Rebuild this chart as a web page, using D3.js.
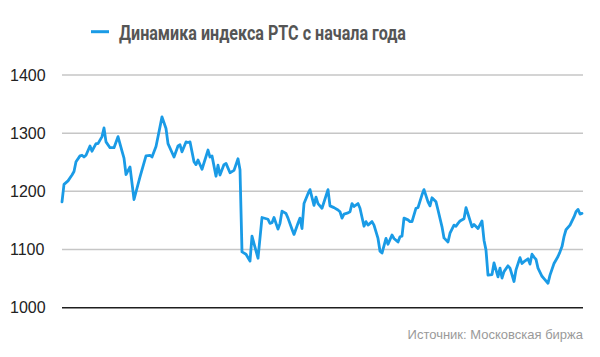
<!DOCTYPE html>
<html><head><meta charset="utf-8">
<script src="https://cdn.jsdelivr.net/npm/d3@7"></script>
<style>html,body{margin:0;padding:0;background:#fff;}svg{display:block;}</style>
</head><body>
<svg id="chart" width="600" height="357"></svg>
<script>
const title = "Динамика индекса РТС с начала года";
const source = "Источник: Московская биржа";
const yTicks = [1000, 1100, 1200, 1300, 1400];
// trading day index since start of year
const days = [0,1,3,5,6,7,9,10,11,12,14,15,17,18,20,21,22,24,26,28,30,31,32,34,36,39,42,44,45,47,48,50,52,53,56,58,59,60,62,63,64,66,67,68,70,73,74,75,77,78,79,81,82,84,86,88,89,90,92,94,95,98,100,103,104,105,106,108,109,110,112,113,115,116,118,119,120,121,123,124,126,127,128,130,133,134,136,138,139,140,141,143,144,145,146,148,149,151,152,153,155,156,158,159,160,162,163,165,166,168,169,170,171,173,174,175,177,178,180,181,183,184,185,187,188,190,191,193,194,196,197,198,199,201,202,203,205,206,208,210,211,212,213,215,216,218,219,220,221,223,224,226,227,229,230,231,233,234,235,236,237,238,240,241,243,244,246,248,249,250,251,252,254,256,257,258,259,260];
const rts = [1182,1212,1218,1228,1234,1251,1261,1262,1259,1262,1278,1269,1282,1282,1294,1309,1285,1275,1275,1294,1269,1257,1229,1242,1186,1225,1261,1262,1259,1277,1294,1328,1308,1282,1259,1278,1280,1268,1285,1284,1285,1251,1246,1254,1238,1271,1259,1261,1226,1245,1228,1246,1248,1232,1236,1256,1237,1096,1092,1080,1123,1085,1155,1152,1145,1146,1155,1135,1145,1166,1162,1154,1135,1126,1145,1154,1136,1179,1196,1203,1176,1190,1179,1171,1203,1175,1172,1168,1165,1154,1161,1163,1165,1179,1174,1179,1171,1140,1148,1142,1148,1142,1119,1097,1094,1119,1109,1125,1119,1113,1122,1123,1154,1151,1148,1148,1171,1172,1194,1203,1182,1175,1189,1182,1168,1139,1120,1113,1128,1142,1140,1145,1149,1153,1172,1161,1139,1143,1136,1149,1116,1099,1056,1057,1077,1053,1068,1051,1062,1072,1068,1045,1065,1086,1076,1079,1084,1075,1092,1087,1083,1068,1054,1050,1042,1056,1076,1088,1096,1105,1122,1134,1142,1156,1165,1169,1161,1162];

const svg = d3.select("#chart");
const x = d3.scaleLinear().domain([0, 260]).range([62, 582]);
const y = d3.scaleLinear().domain([1000, 1400]).range([307.7, 75]);

// gridlines
svg.append("g").selectAll("line").data(yTicks).join("line")
  .attr("x1", 62).attr("x2", 583)
  .attr("y1", d => y(d)).attr("y2", d => y(d))
  .attr("stroke", d => d === 1000 ? "#1e1e1e" : "#c6c6c6")
  .attr("stroke-width", 1.5);

// tick labels
svg.append("g").selectAll("text").data(yTicks).join("text")
  .attr("x", 10).attr("y", d => y(d))
  .attr("dy", "0.36em")
  .attr("font-family", "Liberation Sans, Arial, sans-serif")
  .attr("font-size", 16).attr("fill", "#222")
  .text(d => d);

// line
const line = d3.line().x((d, i) => x(days[i])).y(d => y(d));
svg.append("path").datum(rts)
  .attr("d", line).attr("fill", "none")
  .attr("stroke", "#1a9be6").attr("stroke-width", 2.8)
  .attr("stroke-linejoin", "round").attr("stroke-linecap", "round");

// legend / title
svg.append("line").attr("x1", 91).attr("x2", 109).attr("y1", 31.7).attr("y2", 31.7)
  .attr("stroke", "#1a9be6").attr("stroke-width", 3);
svg.append("text").attr("x", 119).attr("y", 40)
  .attr("font-family", "Roboto, sans-serif").attr("font-weight", "bold")
  .attr("font-size", 20).attr("fill", "#555")
  .attr("textLength", 287).attr("lengthAdjust", "spacingAndGlyphs")
  .text(title);

// source
svg.append("text").attr("x", 583).attr("y", 339)
  .attr("text-anchor", "end")
  .attr("font-family", "Liberation Sans, Arial, sans-serif")
  .attr("font-size", 13).attr("fill", "#9a9a9a")
  .text(source);
</script>
</body></html>
